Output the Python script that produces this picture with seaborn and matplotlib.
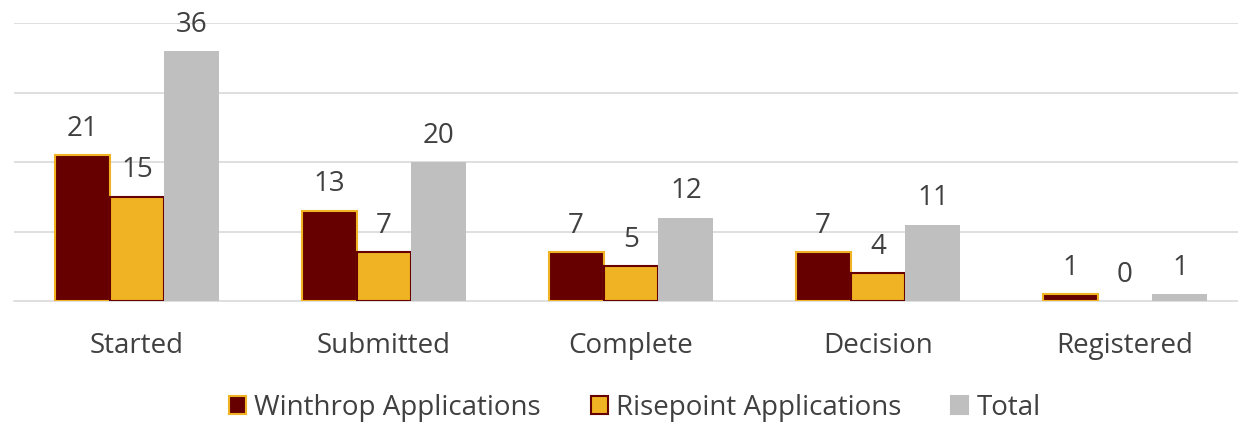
import matplotlib
matplotlib.use("Agg")
import matplotlib.pyplot as plt
import seaborn as sns
import pandas as pd
from matplotlib.patches import Patch

categories = ["Started", "Submitted", "Complete", "Decision", "Registered"]
series_names = ["Winthrop Applications", "Risepoint Applications", "Total"]
winthrop = [21, 13, 7, 7, 1]
risepoint = [15, 7, 5, 4, 0]
total = [36, 20, 12, 11, 1]

fills = ["#660000", "#F0B323", "#BFBFBF"]
edges = ["#F0B323", "#660000", "none"]

rows = []
for name, vals in zip(series_names, [winthrop, risepoint, total]):
    for c, v in zip(categories, vals):
        rows.append({"Stage": c, "Series": name, "Count": v})
df = pd.DataFrame(rows)

sns.set_theme(style="white")
plt.rcParams['font.family'] = ['Open Sans', 'DejaVu Sans']

fig = plt.figure(figsize=(12.38, 4.22), dpi=100)
ax = fig.add_axes([13.5 / 1238, 1 - 301 / 422, 1235 / 1238, (301 - 23.4) / 422])

sns.barplot(data=df, x="Stage", y="Count", hue="Series", order=categories,
            hue_order=series_names, palette=fills, width=0.667, saturation=1,
            ax=ax, legend=False, zorder=3)

for cont, ec in zip(ax.containers, edges):
    for bar in cont:
        if ec == "none" or bar.get_height() == 0:
            bar.set_linewidth(0)
        else:
            bar.set_edgecolor(ec)
            bar.set_linewidth(1.5)
    ax.bar_label(cont, padding=9, fontsize=20, color="#404040")

ax.set_ylim(0, 40)
ax.set_xlim(-0.5, 4.5)
ax.set_yticks([10, 20, 30, 40])
ax.set_yticklabels([])
ax.yaxis.grid(True, color="#D9D9D9", linewidth=1.2, zorder=0)
ax.set_axisbelow(True)
ax.set_xlabel("")
ax.set_ylabel("")
for s in ["top", "right", "left"]:
    ax.spines[s].set_visible(False)
ax.spines["bottom"].set_color("#D9D9D9")
ax.spines["bottom"].set_linewidth(1.2)
ax.tick_params(axis="y", length=0)
ax.tick_params(axis="x", length=0, labelsize=20, labelcolor="#404040", pad=22)

# category separators
ax.set_xticks([-0.5 + i for i in range(6)], minor=True)
ax.tick_params(axis="x", which="minor", length=8, color="#D9D9D9", width=1.2, direction="out")

handles = [Patch(facecolor=f, edgecolor=(e if e != "none" else f), linewidth=1.5)
           for f, e in zip(fills, edges)]
fig.legend(handles, series_names, loc="center", bbox_to_anchor=(0.513, 1 - 408 / 422),
           ncol=3, frameon=False, fontsize=20, handlelength=0.6, handleheight=0.6,
           handletextpad=0.3, columnspacing=1.8, labelcolor="#404040")

fig.savefig("out.png", dpi=100)
